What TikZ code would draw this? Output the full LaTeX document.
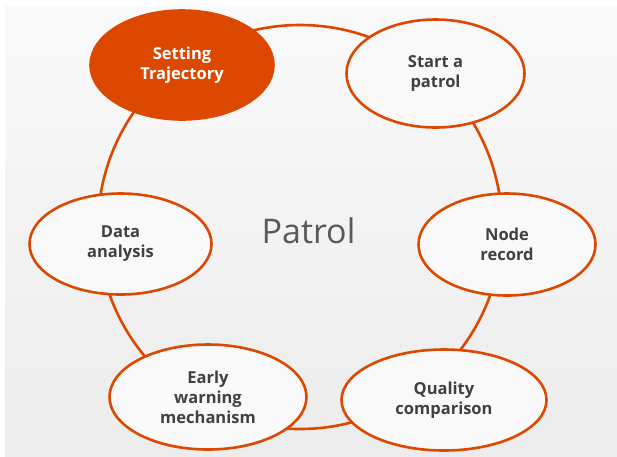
\documentclass[tikz,border=0pt]{standalone}
\usepackage{fontspec}
\setmainfont{Open Sans}
\usetikzlibrary{shapes.geometric}
\definecolor{flame}{RGB}{221, 72, 0}
\definecolor{charcoal}{RGB}{64, 64, 64}
\definecolor{slate}{RGB}{89, 89, 89}
\definecolor{paper}{RGB}{249, 249, 249}
\definecolor{mist}{RGB}{236, 236, 236}

\tikzset{
  stage/.style={ellipse, draw=flame, line width=2.6pt, fill=paper, text=charcoal,
                font=\bfseries\fontsize{16.5}{20}\selectfont, align=center, inner sep=0pt},
  active/.style={stage, fill=flame, text=white}
}

\begin{document}
\begin{tikzpicture}[x=1pt, y=-1pt]
            \useasboundingbox (0,0) rectangle (617,456);
            \shade[top color=paper, bottom color=mist]          (  5.0,  6.0) rectangle (617.0,456.0);
            \coordinate (hub) at (300.0,227.0);
            \draw[flame, line width=2.6pt]                      (hub) circle (202pt);
            % the six steps round the loop
            \node[active, minimum width=183pt, minimum height=109pt] (traj)    at (182.0, 65.0) {Setting\\Trajectory};
            \node[stage,  minimum width=178pt, minimum height=108pt] (start)   at (435.5, 73.5) {Start a\\patrol};
            \node[stage,  minimum width=177pt, minimum height=102pt] (record)  at (507.0,244.5) {Node\\record};
            \node[stage,  minimum width=205pt, minimum height=101pt] (quality) at (444.0,400.0) {Quality\\comparison};
            \node[stage,  minimum width=197pt, minimum height=105pt] (early)   at (208.0,397.0) {Early\\warning\\mechanism};
            \node[stage,  minimum width=182pt, minimum height=101pt] (data)    at (120.5,244.0) {Data\\analysis};
            \node[text=slate, font=\fontsize{34}{40}\selectfont]    (title)   at (308.5,231.0) {Patrol};
        \end{tikzpicture}
\end{document}
